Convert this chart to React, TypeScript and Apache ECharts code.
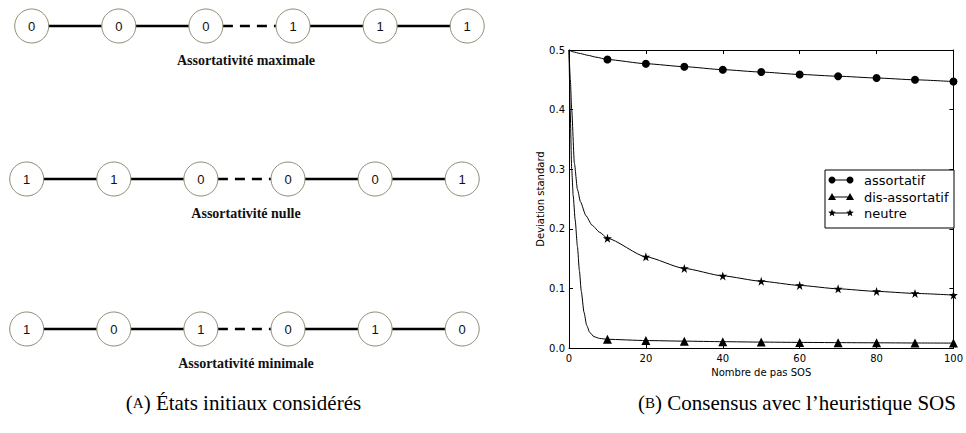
import React, { useEffect, useRef } from "react";
import * as echarts from "echarts";

// ---- (A) initial states of the chain ----
const rowLabels = ["Assortativité maximale", "Assortativité nulle", "Assortativité minimale"];
const rowStates = [
  [0, 0, 0, 1, 1, 1],
  [1, 1, 0, 0, 0, 1],
  [1, 0, 1, 0, 1, 0],
];

// ---- (B) standard deviation vs. number of SOS steps ----
const steps = [10, 20, 30, 40, 50, 60, 70, 80, 90, 100];
const assortatif = [0.484, 0.477, 0.472, 0.467, 0.463, 0.459, 0.456, 0.453, 0.45, 0.447];
const disAssortatif = [0.0146, 0.0125, 0.0115, 0.0106, 0.0099, 0.0094, 0.009, 0.0087, 0.0084, 0.0082];
const neutre = [0.184, 0.153, 0.1335, 0.121, 0.112, 0.105, 0.0993, 0.095, 0.0916, 0.0888];

// first steps of each run (curve only, no marker)
const assortatifEarlySteps = [0, 1, 3, 5, 7];
const assortatifEarly = [0.5, 0.497, 0.494, 0.491, 0.488];
const disEarlySteps = [0, 0.3, 0.7, 1.1, 1.6, 2.2, 2.7, 3.2, 3.9, 4.6, 5.4, 6.5, 8];
const disEarly = [0.5, 0.4, 0.3, 0.255, 0.215, 0.17, 0.13, 0.095, 0.06, 0.038, 0.026, 0.019, 0.016];
const neutreEarlySteps = [0, 0.35, 0.7, 1.4, 2.2, 3, 4.4, 6, 8];
const neutreEarly = [0.5, 0.45, 0.4, 0.31, 0.266, 0.245, 0.222, 0.206, 0.194];

const yTicks = [0, 0.1, 0.2, 0.3, 0.4, 0.5];
const xTicks = [0, 20, 40, 60, 80, 100];

const seriesNames = ["assortatif", "dis-assortatif", "neutre"];

const STAR =
  "path://M50,0 L61.2,34.5 L97.6,34.5 L68.2,55.9 L79.4,90.5 L50,69.1 L20.6,90.5 L31.8,55.9 L2.4,34.5 L38.8,34.5 Z";

const SANS = "DejaVu Sans";
const SERIF = "Liberation Serif";

function buildData(earlyX: number[], earlyY: number[], xs: number[], ys: number[]) {
  const early = earlyX.map((x, i) => ({ value: [x, earlyY[i]], symbol: "none" }));
  const marked = xs.map((x, i) => ({ value: [x, ys[i]] }));
  return [...early, ...marked];
}

function starPoints(cx: number, cy: number, R: number, r: number) {
  const pts: number[][] = [];
  for (let k = 0; k < 10; k++) {
    const a = -Math.PI / 2 + (k * Math.PI) / 5;
    const rad = k % 2 === 0 ? R : r;
    pts.push([cx + rad * Math.cos(a), cy + rad * Math.sin(a)]);
  }
  return pts;
}

function diagramGraphics() {
  const els: any[] = [];
  const rowY = [26, 179, 329];
  const rowX0 = [31.7, 26.7, 26.7];
  const gap = 87.1;
  const R = 17;
  rowStates.forEach((states, i) => {
    const cy = rowY[i];
    const xs = states.map((_, j) => rowX0[i] + j * gap);
    for (let j = 0; j < xs.length - 1; j++) {
      els.push({
        type: "line",
        shape: { x1: xs[j] + R, y1: cy, x2: xs[j + 1] - R, y2: cy },
        style: {
          stroke: "#000",
          lineWidth: 2.6,
          lineDash: j === 2 ? [10, 7] : null,
        },
      });
    }
    states.forEach((v, j) => {
      els.push({
        type: "circle",
        shape: { cx: xs[j], cy, r: R },
        style: { fill: "#fff", stroke: "#8d8a72", lineWidth: 1 },
      });
      els.push({
        type: "text",
        style: {
          text: String(v),
          x: xs[j],
          y: cy,
          align: "center",
          verticalAlign: "middle",
          font: "13px 'Liberation Sans'",
          fill: "#111",
        },
      });
    });
    els.push({
      type: "text",
      style: {
        text: rowLabels[i],
        x: 246,
        y: cy + 34,
        align: "center",
        verticalAlign: "middle",
        font: `bold 14px '${SERIF}'`,
        fill: "#111",
      },
    });
  });
  return els;
}

function captionGraphics() {
  const rich = {
    p: { font: `21px '${SERIF}'`, fill: "#000" },
    s: { font: `15px '${SERIF}'`, fill: "#000" },
  };
  return [
    {
      type: "text",
      style: {
        text: "{p|(}{s|A}{p|) États initiaux considérés}",
        rich,
        x: 243.5,
        y: 403,
        align: "center",
        verticalAlign: "middle",
      },
    },
    {
      type: "text",
      style: {
        text: "{p|(}{s|B}{p|) Consensus avec l’heuristique SOS}",
        rich,
        x: 638,
        y: 403,
        align: "left",
        verticalAlign: "middle",
      },
    },
  ];
}

function legendGraphics() {
  const els: any[] = [];
  const z = 100;
  els.push({
    type: "rect",
    z,
    shape: { x: 825, y: 170, width: 129, height: 58 },
    style: { fill: "#fff", stroke: "#000", lineWidth: 1 },
  });
  const ys = [180, 197, 213];
  const x1 = 832;
  const x2 = 850;
  seriesNames.forEach((name, i) => {
    const y = ys[i];
    els.push({
      type: "line",
      z,
      shape: { x1, y1: y, x2, y2: y },
      style: { stroke: "#000", lineWidth: 1 },
    });
    [x1, x2].forEach((cx) => {
      if (i === 0) {
        els.push({ type: "circle", z, shape: { cx, cy: y, r: 3.5 }, style: { fill: "#000" } });
      } else if (i === 1) {
        els.push({
          type: "polygon",
          z,
          shape: { points: [[cx, y - 4], [cx + 4, y + 3], [cx - 4, y + 3]] },
          style: { fill: "#000" },
        });
      } else {
        els.push({
          type: "polygon",
          z,
          shape: { points: starPoints(cx, y, 4, 1.7) },
          style: { fill: "#000" },
        });
      }
    });
    els.push({
      type: "text",
      z,
      style: {
        text: name,
        x: 864,
        y,
        align: "left",
        verticalAlign: "middle",
        font: `13px '${SANS}'`,
        fill: "#000",
      },
    });
  });
  return els;
}

export default function App() {
  const ref = useRef<HTMLDivElement>(null);

  useEffect(() => {
    if (!ref.current) return;
    const chart = echarts.init(ref.current, null, { renderer: "svg" });

    const axisLine = { show: true, onZero: false, lineStyle: { color: "#000", width: 1 } };
    const axisTick = { show: true, inside: true, length: 4, lineStyle: { color: "#000", width: 1 } };
    const tickLabel = { fontFamily: SANS, fontSize: 10, color: "#000" };

    const lineSeries = (name: string, data: any[], symbol: string, size: number) => ({
      name,
      type: "line",
      data,
      symbol,
      symbolSize: size,
      showSymbol: true,
      smooth: 0.2,
      smoothMonotone: "x",
      clip: false,
      lineStyle: { color: "#000", width: 1 },
      itemStyle: { color: "#000" },
      z: 5,
    });

    chart.setOption({
      animation: false,
      backgroundColor: "#fff",
      grid: { left: 569, right: 10, top: 50, bottom: 85, containLabel: false },
      xAxis: [
        {
          type: "value",
          min: xTicks[0],
          max: xTicks[xTicks.length - 1],
          interval: 20,
          position: "bottom",
          axisLine,
          axisTick,
          splitLine: { show: false },
          axisLabel: { ...tickLabel, margin: 5, showMinLabel: true, showMaxLabel: true },
          name: "Nombre de pas SOS",
          nameLocation: "middle",
          nameGap: 19,
          nameTextStyle: { fontFamily: SANS, fontSize: 10, color: "#000" },
        },
        {
          type: "value",
          min: xTicks[0],
          max: xTicks[xTicks.length - 1],
          interval: 20,
          position: "top",
          axisLine,
          axisTick,
          splitLine: { show: false },
          axisLabel: { show: false },
        },
      ],
      yAxis: [
        {
          type: "value",
          min: yTicks[0],
          max: yTicks[yTicks.length - 1],
          interval: 0.1,
          position: "left",
          axisLine,
          axisTick,
          splitLine: { show: false },
          axisLabel: {
            ...tickLabel,
            margin: 4,
            showMinLabel: true,
            showMaxLabel: true,
            formatter: (v: number) => v.toFixed(1),
          },
          name: "Deviation standard",
          nameLocation: "middle",
          nameRotate: 90,
          nameGap: 24,
          nameTextStyle: { fontFamily: SANS, fontSize: 10, color: "#000" },
        },
        {
          type: "value",
          min: yTicks[0],
          max: yTicks[yTicks.length - 1],
          interval: 0.1,
          position: "right",
          axisLine,
          axisTick,
          splitLine: { show: false },
          axisLabel: { show: false },
        },
      ],
      series: [
        lineSeries(
          seriesNames[0],
          buildData(assortatifEarlySteps, assortatifEarly, steps, assortatif),
          "circle",
          8
        ),
        lineSeries(
          seriesNames[1],
          buildData(disEarlySteps, disEarly, steps, disAssortatif),
          "triangle",
          9
        ),
        lineSeries(seriesNames[2], buildData(neutreEarlySteps, neutreEarly, steps, neutre), STAR, 9),
      ],
      graphic: [...diagramGraphics(), ...captionGraphics(), ...legendGraphics()],
    });

    return () => chart.dispose();
  }, []);

  return (
    <div
      ref={ref}
      style={{ position: "fixed", left: 0, top: 0, width: 966, height: 433, background: "#fff" }}
    />
  );
}
